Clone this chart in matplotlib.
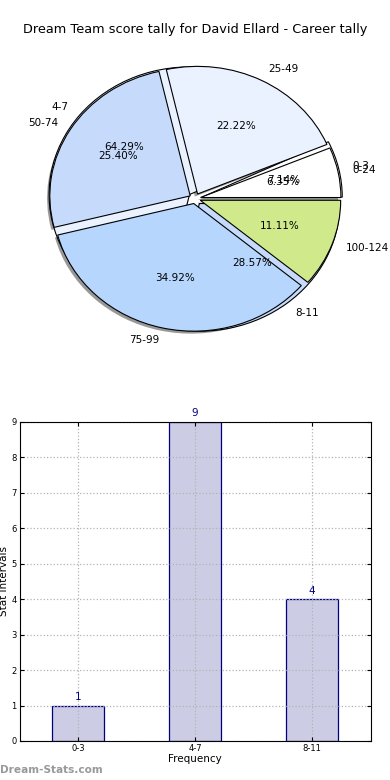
import numpy as np
import matplotlib
matplotlib.use('Agg')
import matplotlib.pyplot as plt
import matplotlib.patches as mpatches

# score tally (first pie)
score_labels = ['0-24', '25-49', '50-74', '75-99', '100-124']
score_counts = [4, 14, 16, 22, 7]
# stat intervals (second pie + bars)
freq_labels = ['0-3', '4-7', '8-11']
freq_counts = [1, 9, 4]

pie_colors = ['#ffffff', '#eaf2ff', '#c6dafc', '#b7d6fd', '#cfe98b']

fig, (ax1, ax2) = plt.subplots(2, 1, figsize=(3.9, 7.8), dpi=100)
fig.subplots_adjust(left=0.05, right=0.95, top=0.95, bottom=0.05, hspace=0.2)

# underlying pie
w2, t2, a2 = ax1.pie(freq_counts, labels=freq_labels, colors=pie_colors[:3],
                     autopct='%1.2f%%', startangle=0, explode=[0.05] * 3,
                     wedgeprops=dict(edgecolor='k', linewidth=0.8, zorder=1.0),
                     textprops=dict(fontsize=7.5))
# top pie, exploded with shadow
w1, t1, a1 = ax1.pie(score_counts, labels=score_labels, colors=pie_colors,
                     autopct='%1.2f%%', startangle=0, explode=[0.04] * 5,
                     shadow=dict(ox=-0.014, oy=-0.014),
                     wedgeprops=dict(edgecolor='k', linewidth=0.8, zorder=1.1),
                     textprops=dict(fontsize=7.5))
for p in ax1.patches:
    if isinstance(p, mpatches.Shadow):
        p.set_zorder(0.9)
        p.set_facecolor((0.2, 0.2, 0.2, 0.85))
        p.set_edgecolor('none')
ax1.set_aspect('auto')
ax1.set_xlim(-1.25, 1.25)
ax1.set_ylim(-1.25, 1.25)
ax1.set_title('Dream Team score tally for David Ellard - Career tally', fontsize=9.3, pad=4)

# bar chart
x = np.arange(len(freq_labels))
bars = ax2.bar(x, freq_counts, width=0.45, color='#ccccE5', edgecolor='#000080', linewidth=0.9,
               zorder=2)
for xi, v in zip(x, freq_counts):
    ax2.text(xi, v + 0.1, str(v), ha='center', va='bottom', color='#000080', fontsize=7.5)
ax2.set_xlim(-0.5, 2.5)
ax2.set_ylim(0, 9)
ax2.set_xticks(x)
ax2.set_xticklabels(freq_labels)
ax2.set_yticks(range(0, 10))
ax2.tick_params(labelsize=6, direction='in', top=True, right=True, length=3, pad=2)
ax2.grid(True, linestyle=':', color='0.7', linewidth=0.9, zorder=3)
ax2.set_axisbelow(False)
for sp in ax2.spines.values():
    sp.set_zorder(4)
ax2.set_xlabel('Frequency', fontsize=7.5, labelpad=1)
ax2.set_ylabel('Stat Intervals', fontsize=7.5, labelpad=2)

fig.text(0.0, 0.006, 'Dream-Stats.com', color='#999999', fontsize=7.6, fontweight='bold',
         ha='left', va='bottom')

fig.savefig('out.png', dpi=100)
